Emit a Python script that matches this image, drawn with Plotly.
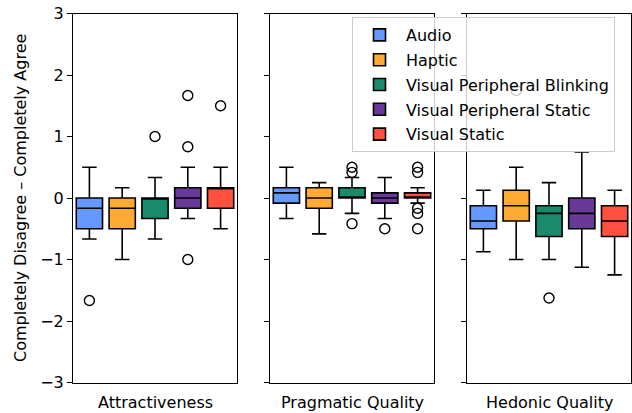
import plotly.graph_objects as go

categories = ["Attractiveness", "Pragmatic Quality", "Hedonic Quality"]
conditions = ["Audio", "Haptic", "Visual Peripheral Blinking",
              "Visual Peripheral Static", "Visual Static"]
colors = ["#6699FF", "#FFAA33", "#1B8A6B", "#663A96", "#FF5040"]

# per category: values for the 5 conditions
upper_whisker = [[0.5, 0.167, 0.333, 0.5, 0.5],
                 [0.5, 0.25, 0.333, 0.333, 0.167],
                 [0.125, 0.5, 0.25, 0.75, 0.125]]
q3_values = [[0.0, 0.0, 0.0, 0.167, 0.167],
             [0.167, 0.167, 0.167, 0.083, 0.083],
             [-0.125, 0.125, -0.125, 0.0, -0.125]]
median_values = [[-0.167, -0.167, 0.0, 0.0, 0.167],
                 [0.083, 0.0, 0.0, 0.0, 0.0],
                 [-0.375, -0.125, -0.25, -0.25, -0.375]]
q1_values = [[-0.5, -0.5, -0.333, -0.167, -0.167],
             [-0.083, -0.167, 0.0, -0.083, 0.0],
             [-0.5, -0.375, -0.625, -0.5, -0.625]]
lower_whisker = [[-0.667, -1.0, -0.667, -0.333, -0.5],
                 [-0.333, -0.583, -0.25, -0.333, -0.083],
                 [-0.875, -1.0, -1.0, -1.125, -1.25]]
outliers = [[[-1.667], [], [1.0], [1.667, 0.833, -1.0], [1.5]],
            [[], [], [0.5, 0.417, -0.417], [-0.5], [0.5, 0.417, -0.167, -0.25, -0.5]],
            [[], [1.75], [-1.625], [], []]]

y_ticks = [-3, -2, -1, 0, 1, 2, 3]

W, H = 632, 413
FONT = "DejaVu Sans"

fig = go.Figure()

for ci, cat in enumerate(categories):
    ax = "" if ci == 0 else str(ci + 1)
    for k, cond in enumerate(conditions):
        pos = k + 1
        fig.add_trace(go.Box(
            x=[pos], q1=[q1_values[ci][k]], median=[median_values[ci][k]],
            q3=[q3_values[ci][k]], lowerfence=[lower_whisker[ci][k]],
            upperfence=[upper_whisker[ci][k]],
            boxpoints=False, width=0.8, whiskerwidth=0.55,
            fillcolor=colors[k], line=dict(color="black", width=1.6),
            name=cond, legendgroup=cond, showlegend=(ci == 0),
            xaxis="x" + ax, yaxis="y" + ax, hoverinfo="skip",
        ))
        if outliers[ci][k]:
            fig.add_trace(go.Scatter(
                x=[pos] * len(outliers[ci][k]), y=outliers[ci][k],
                mode="markers",
                marker=dict(symbol="circle-open", size=10, color="black",
                            line=dict(width=1.4, color="black")),
                showlegend=False, xaxis="x" + ax, yaxis="y" + ax,
                hoverinfo="skip",
            ))

top = 1 - 13.5 / H
bottom = 1 - 382.5 / H
x_domains = [[73 / W, 237 / W], [270 / W, 434 / W], [467 / W, 631 / W]]

layout = dict(
    width=W, height=H,
    margin=dict(l=0, r=0, t=0, b=0, pad=0, autoexpand=False),
    paper_bgcolor="white", plot_bgcolor="white",
    font=dict(family=FONT, size=16, color="black"),
    showlegend=True,
    legend=dict(x=352 / W, y=1 - 17 / H, xanchor="left", yanchor="top",
                bgcolor="rgba(255,255,255,0.8)", bordercolor="#cccccc",
                borderwidth=1, font=dict(family=FONT, size=16),
                tracegroupgap=1, itemwidth=43),
)
annotations = []
for ci, cat in enumerate(categories):
    ax = "" if ci == 0 else str(ci + 1)
    layout["xaxis" + ax] = dict(
        domain=x_domains[ci], range=[0.5, 5.5], showticklabels=False,
        ticks="", showgrid=False, zeroline=False, showline=True,
        mirror=True, linecolor="black", linewidth=1,
        anchor="y" + ax,
    )
    layout["yaxis" + ax] = dict(
        domain=[bottom, top], range=[-3, 3], tickvals=y_ticks,
        ticks="outside", ticklen=5, tickwidth=1, tickcolor="black",
        showticklabels=(ci == 0), showgrid=False, zeroline=False,
        showline=True, mirror=True, linecolor="black", linewidth=1,
        anchor="x" + ax, tickfont=dict(size=16),
    )
    annotations.append(dict(
        text=cat, x=sum(x_domains[ci]) / 2, y=1 - 402 / H, xref="paper",
        yref="paper", showarrow=False, xanchor="center", yanchor="middle",
        font=dict(size=16),
    ))
annotations.append(dict(
    text="Completely Disagree – Completely Agree", x=20 / W, y=1 - 198 / H,
    xref="paper", yref="paper", showarrow=False, textangle=-90,
    xanchor="center", yanchor="middle", font=dict(size=16),
))
layout["annotations"] = annotations
fig.update_layout(**layout)

fig.write_html("out.html")
